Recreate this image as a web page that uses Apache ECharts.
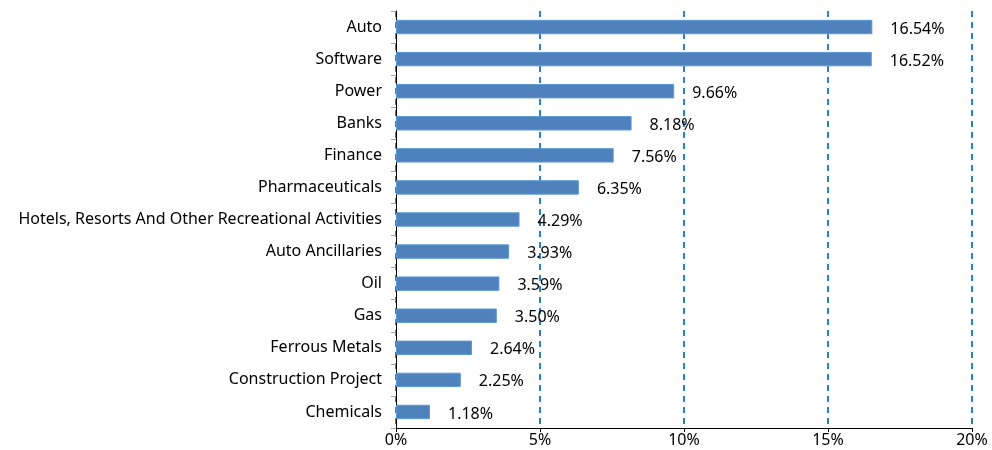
<!DOCTYPE html>
<html>
<head>
<meta charset="utf-8">
<script src="https://cdn.jsdelivr.net/npm/echarts@6/dist/echarts.min.js"></script>
<style>
  html, body { margin: 0; padding: 0; background: #fff; }
  #main { width: 992px; height: 450px; }
</style>
</head>
<body>
<div id="main"></div>
<script>
// sectors, top to bottom
const sectors = ['Auto', 'Software', 'Power', 'Banks', 'Finance', 'Pharmaceuticals',
  'Hotels, Resorts And Other Recreational Activities', 'Auto Ancillaries', 'Oil', 'Gas',
  'Ferrous Metals', 'Construction Project', 'Chemicals'];
// weight in percent
const weights = [16.54, 16.52, 9.66, 8.18, 7.56, 6.35, 4.29, 3.93, 3.59, 3.50, 2.64, 2.25, 1.18];
const xTicks = [0, 5, 10, 15, 20];

const font = '"Noto Sans", sans-serif';
let myChart = echarts.init(document.getElementById('main'));
myChart.setOption({
  animation: false,
  grid: { left: 396, right: 20, top: 11, bottom: 22, containLabel: false },
  xAxis: {
    type: 'value',
    min: xTicks[0],
    max: xTicks[xTicks.length - 1],
    interval: 5,
    axisLine: { show: true, lineStyle: { color: '#000', width: 1 } },
    axisTick: { show: true, length: 4, lineStyle: { color: '#000' } },
    axisLabel: {
      formatter: '{value}%',
      color: '#000',
      fontSize: 16,
      fontFamily: font,
      margin: 4
    },
    splitLine: {
      show: true,
      lineStyle: { color: '#2A7FD0', type: [6, 5], width: 2 }
    }
  },
  yAxis: {
    type: 'category',
    data: sectors,
    inverse: true,
    axisLine: { show: true, lineStyle: { color: '#000', width: 1 } },
    axisTick: { show: true, length: 5, lineStyle: { color: '#A6A6A6' } },
    axisLabel: {
      color: '#000',
      fontSize: 16,
      fontFamily: font,
      margin: 14
    },
    splitLine: { show: false }
  },
  series: [{
    type: 'bar',
    data: weights,
    barWidth: '45%',
    itemStyle: { color: '#4F81BD', borderColor: '#5B9BD5', borderWidth: 1 },
    label: {
      show: true,
      position: 'right',
      distance: 18,
      offset: [0, 2],
      color: '#000',
      fontSize: 16,
      fontFamily: font,
      formatter: p => p.value.toFixed(2) + '%'
    }
  }]
});
</script>
</body>
</html>
